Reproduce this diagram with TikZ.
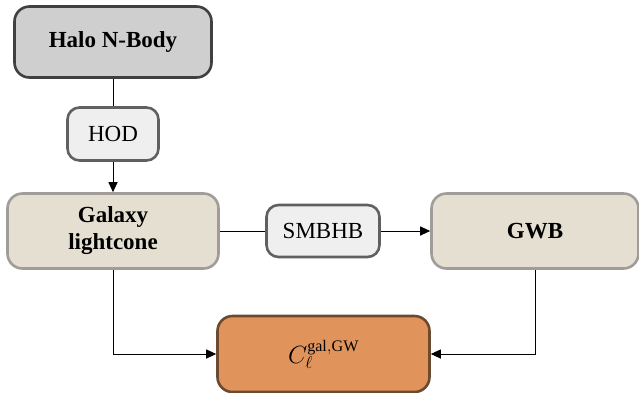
\documentclass[tikz,border=0pt]{standalone}
\usepackage{fontspec}
\setmainfont{Liberation Serif}
\usetikzlibrary{arrows.meta}
\definecolor{halofill}{HTML}{D0CFD0}
\definecolor{haloline}{HTML}{404040}
\definecolor{smallfill}{HTML}{EFEFEF}
\definecolor{smallline}{HTML}{606060}
\definecolor{beigefill}{HTML}{E4DFD0}
\definecolor{beigeline}{HTML}{A09C98}
\definecolor{orangefill}{HTML}{E0945C}
\definecolor{orangeline}{HTML}{6B4A30}
\tikzset{
  box/.style={rounded corners=15pt, line width=2.6pt, inner sep=0pt, align=center, font=\fontsize{23}{27}\selectfont},
  bigbox/.style={box, font=\fontsize{23}{27}\selectfont\bfseries},
  smallbox/.style={box, rounded corners=12pt, fill=smallfill, draw=smallline},
  conn/.style={line width=1pt, black},
  arr/.style={conn, -{Triangle[length=10pt,width=9pt]}},
}
\begin{document}
\begin{tikzpicture}[x=1pt,y=-1pt]
\useasboundingbox (0,0) rectangle (639,392);
\node[bigbox, fill=halofill, draw=haloline, minimum width=197pt, minimum height=71pt] (halo) at (113,42) {Halo N-Body};
\node[smallbox, minimum width=91pt, minimum height=53pt] (hod) at (113,134) {HOD};
\node[bigbox, fill=beigefill, draw=beigeline, minimum width=211pt, minimum height=75pt] (gal) at (113,231) {Galaxy\\lightcone};
\node[smallbox, minimum width=113pt, minimum height=52pt] (smbhb) at (323,231) {SMBHB};
\node[bigbox, fill=beigefill, draw=beigeline, minimum width=207pt, minimum height=75pt] (gwb) at (535,231) {GWB};
\node[box, fill=orangefill, draw=orangeline, minimum width=212pt, minimum height=76pt] (cl) at (323.5,354) {$C_\ell^{\mathrm{gal,GW}}$};
\draw[conn] (halo.south) -- (hod.north);
\draw[arr] (hod.south) -- (gal.north);
\draw[conn] (gal.east) -- (smbhb.west);
\draw[arr] (smbhb.east) -- (gwb.west);
\draw[arr] (gal.south) |- (cl.west);
\draw[arr] (gwb.south) |- (cl.east);
\end{tikzpicture}
\end{document}
